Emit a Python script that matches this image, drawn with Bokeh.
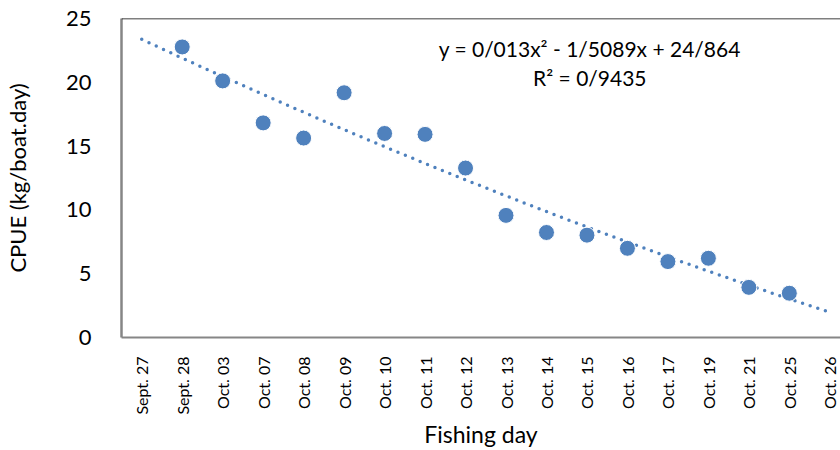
import numpy as np
from bokeh.plotting import figure
from bokeh.models import FixedTicker, Span, Label, Range1d, ColumnDataSource
from bokeh.embed import file_html
from bokeh.resources import INLINE

# ---- data ----
categories = ["Sept. 27", "Sept. 28", "Oct. 03", "Oct. 07", "Oct. 08", "Oct. 09",
              "Oct. 10", "Oct. 11", "Oct. 12", "Oct. 13", "Oct. 14", "Oct. 15",
              "Oct. 16", "Oct. 17", "Oct. 19", "Oct. 21", "Oct. 25", "Oct. 26"]
point_days = ["Sept. 28", "Oct. 03", "Oct. 07", "Oct. 08", "Oct. 09", "Oct. 10",
              "Oct. 11", "Oct. 12", "Oct. 13", "Oct. 14", "Oct. 15", "Oct. 16",
              "Oct. 17", "Oct. 19", "Oct. 21", "Oct. 25"]
cpue = [22.77, 20.11, 16.82, 15.63, 19.18, 15.99, 15.92, 13.28,
        9.57, 8.23, 8.02, 6.99, 5.95, 6.21, 3.93, 3.47]
y_ticks = [0, 5, 10, 15, 20, 25]
equation_text = "y = 0/013x\u00b2 - 1/5089x + 24/864"
r2_text = "R\u00b2 = 0/9435"
x_title = "Fishing day"
y_title = "CPUE (kg/boat.day)"

FONT = "Lato"
BLUE = "#4F81BD"

xs = [categories.index(d) + 1 for d in point_days]
coef = np.polyfit(xs, cpue, 2)
tx = np.linspace(1, len(categories), 300)
ty = np.polyval(coef, tx)

p = figure(width=840, height=450, output_backend="svg", toolbar_location=None,
           x_range=Range1d(0.5, 0.5 + 723 / 40.7), y_range=Range1d(0, 25),
           min_border_left=117, min_border_right=0, min_border_top=18,
           min_border_bottom=110)
p.outline_line_color = None
p.grid.visible = False
p.background_fill_color = "white"
p.border_fill_color = "white"

# top border of plot area
p.add_layout(Span(location=25, dimension="width", line_color="black", line_width=1.5))

p.line(tx, ty, line_color=BLUE, line_width=3.5, line_dash="0 8", line_cap="round")
src = ColumnDataSource(dict(x=xs, y=cpue))
p.scatter("x", "y", source=src, size=16, fill_color=BLUE, line_color="white", line_width=1)

p.add_layout(Label(x=12.07, y=22.67, text=equation_text, text_align="center",
                   text_baseline="middle", text_font=FONT, text_font_size="21px",
                   text_color="black"))
p.add_layout(Label(x=12.07, y=20.34, text=r2_text, text_align="center",
                   text_baseline="middle", text_font=FONT, text_font_size="21px",
                   text_color="black"))

xa = p.xaxis[0]
xa.ticker = FixedTicker(ticks=list(range(1, len(categories) + 1)))
xa.major_label_overrides = {i + 1: c for i, c in enumerate(categories)}
xa.major_label_orientation = np.pi / 2
xa.major_label_text_font = FONT
xa.major_label_text_font_size = "16px"
xa.major_label_text_color = "black"
xa.major_label_standoff = 13
xa.major_tick_line_color = None
xa.minor_tick_line_color = None
xa.axis_line_color = "#868686"
xa.axis_line_width = 2
xa.axis_label = x_title
xa.axis_label_text_font = FONT
xa.axis_label_text_font_style = "normal"
xa.axis_label_text_font_size = "23px"
xa.axis_label_text_color = "black"
xa.axis_label_standoff = 2

ya = p.yaxis[0]
ya.ticker = FixedTicker(ticks=y_ticks)
ya.major_label_text_font = FONT
ya.major_label_text_font_size = "22px"
ya.major_label_text_color = "black"
ya.major_label_standoff = 24
ya.major_tick_line_color = None
ya.minor_tick_line_color = None
ya.axis_line_color = "#868686"
ya.axis_line_width = 2.5
ya.axis_label = y_title
ya.axis_label_text_font = FONT
ya.axis_label_text_font_style = "normal"
ya.axis_label_text_font_size = "22px"
ya.axis_label_text_color = "black"
ya.axis_label_standoff = 32

open("out.html", "w").write(file_html(p, INLINE))
